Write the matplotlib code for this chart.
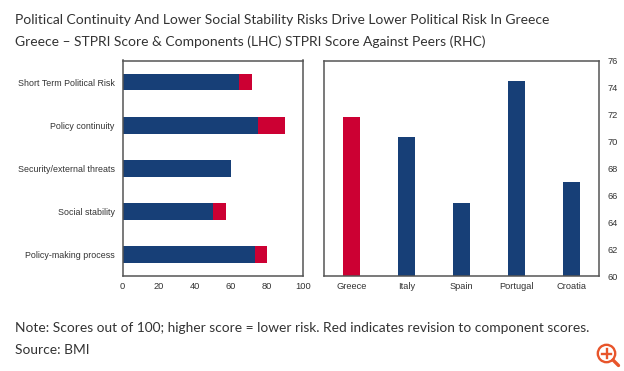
import matplotlib
matplotlib.use("Agg")
import matplotlib.pyplot as plt
from matplotlib.patches import Circle

COMPONENTS = ["Short Term Political Risk", "Policy continuity", "Security/external threats",
              "Social stability", "Policy-making process"]
COMPONENT_BASE = [64.6, 75, 60, 50, 73.3]
COMPONENT_REVISION = [7.4, 15, 0, 7.6, 6.7]

PEERS = ["Greece", "Italy", "Spain", "Portugal", "Croatia"]
PEER_SCORES = [71.8, 70.3, 65.4, 74.5, 67.0]

X_TICKS = [0, 20, 40, 60, 80, 100]
Y_TICKS = [60, 62, 64, 66, 68, 70, 72, 74, 76]

BLUE = "#173F77"
RED = "#CC0033"
FRAME = "#555555"
TEXT = "#333333"
W, H = 624, 371

plt.rcParams["font.family"] = "Liberation Sans"

fig = plt.figure(figsize=(W / 100, H / 100), dpi=100)


def axes_px(left, top, right, bottom):
    return fig.add_axes([left / W, 1 - bottom / H, (right - left) / W, (bottom - top) / H])


# left panel
ax1 = axes_px(122.5, 60.5, 303, 276)
ax1.barh(COMPONENTS, COMPONENT_BASE, height=0.39, color=BLUE)
ax1.barh(COMPONENTS, COMPONENT_REVISION, left=COMPONENT_BASE, height=0.39, color=RED)
ax1.set_xlim(0, 100)
ax1.set_ylim(4.5, -0.5)
ax1.set_xticks(X_TICKS)
ax1.tick_params(axis="both", length=0, labelcolor=TEXT)
ax1.tick_params(axis="x", pad=4, labelsize=6.7)
ax1.tick_params(axis="y", pad=5.5, labelsize=6.42)

# right panel
ax2 = axes_px(324, 60.5, 599, 276)
ax2.bar(PEERS, PEER_SCORES, width=0.3, color=[RED, BLUE, BLUE, BLUE, BLUE])
ax2.set_xlim(-0.5, 4.5)
ax2.set_ylim(60, 76)
ax2.set_yticks(Y_TICKS)
ax2.yaxis.tick_right()
ax2.tick_params(axis="both", length=0, labelsize=6.7, labelcolor=TEXT)
ax2.tick_params(axis="x", pad=4)
ax2.tick_params(axis="y", pad=6)

for ax in (ax1, ax2):
    for spine in ax.spines.values():
        spine.set_color(FRAME)
        spine.set_linewidth(1.1)

# title and notes
fig.text(15 / W, 1 - 19.5 / H, "Political Continuity And Lower Social Stability Risks Drive Lower Political Risk In Greece",
         family="Lato", fontsize=10.04, color=TEXT, va="center")
fig.text(15 / W, 1 - 41.5 / H, "Greece \u2013 STPRI Score & Components (LHC) STPRI Score Against Peers (RHC)",
         family="Lato", fontsize=10.02, color=TEXT, va="center")
fig.text(15 / W, 1 - 327.5 / H, "Note: Scores out of 100; higher score = lower risk. Red indicates revision to component scores.",
         family="Lato", fontsize=9.95, color=TEXT, va="center")
fig.text(15 / W, 1 - 349.5 / H, "Source: BMI", family="Lato", fontsize=9.95, color=TEXT, va="center")

# zoom icon
overlay = fig.add_axes([0, 0, 1, 1], facecolor="none")
overlay.set_xlim(0, W)
overlay.set_ylim(H, 0)
overlay.axis("off")
ORANGE = "#E8552B"
overlay.add_patch(Circle((606.5, 353.5), 8.7, fill=False, ec=ORANGE, lw=1.7))
overlay.plot([602, 611], [353.5, 353.5], color=ORANGE, lw=1.7)
overlay.plot([606.5, 606.5], [349, 358], color=ORANGE, lw=1.7)
overlay.plot([613, 618.5], [360, 365.5], color=ORANGE, lw=2.4, solid_capstyle="round")

fig.savefig("out.png", dpi=100)
